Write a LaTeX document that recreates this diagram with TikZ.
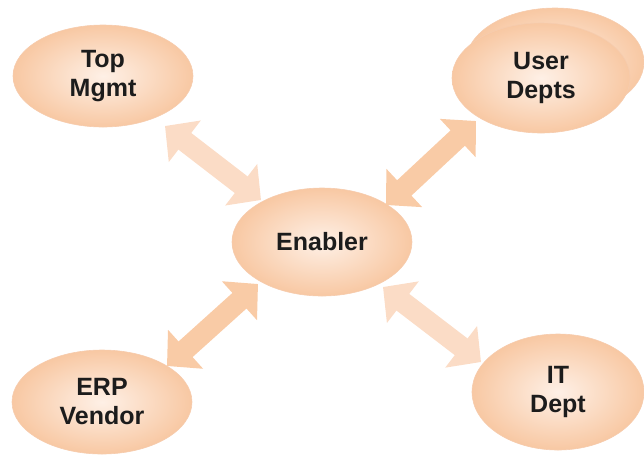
\documentclass[tikz,border=0pt]{standalone}
\usepackage{fontspec}
\setmainfont{Liberation Sans}
\usetikzlibrary{arrows.meta,shapes.geometric}
\definecolor{peachin}{HTML}{FEF0E6}
\definecolor{peachout}{HTML}{F8C8A3}
\definecolor{peachline}{HTML}{F6CCAE}
\definecolor{arrowlight}{HTML}{FBDCC6}
\definecolor{arrowdark}{HTML}{F9CBA6}
\definecolor{txt}{HTML}{1C1C1C}
\tikzset{
  bubble/.style={ellipse, draw=peachline, line width=0.6pt, inner color=peachin, outer color=peachout,
    minimum width=178pt, minimum height=108pt, inner sep=0pt, align=center, text=txt,
    font=\fontsize{25}{29}\selectfont\bfseries},
  bigarrow/.style={draw=#1, line width=21pt,
    {Triangle[length=25pt,width=51pt]}-{Triangle[length=25pt,width=51pt]}}
}
\begin{document}
\begin{tikzpicture}[x=1pt,y=-1pt]
\useasboundingbox (0,0) rectangle (644,459);
% nodes
\node[bubble] (udback) at (555,62) {};
\node[bubble, minimum width=178pt, minimum height=110pt] (ud) at (541,78) {User\\Depts};
\node[bubble, minimum width=180pt, minimum height=102pt] (tm) at (103,76) {Top\\Mgmt};
\node[bubble, minimum width=180pt, minimum height=108pt] (en) at (322,242) {Enabler};
\node[bubble, minimum width=180pt, minimum height=104pt] (erp) at (102,402) {ERP\\Vendor};
\node[bubble, minimum width=172pt, minimum height=116pt] (it) at (558,392) {IT\\Dept};
% arrow end points
\coordinate (a1s) at (165,126); \coordinate (a1e) at (261,200);
\coordinate (a2s) at (476,121); \coordinate (a2e) at (386,205);
\coordinate (a3s) at (258,284); \coordinate (a3e) at (167,366);
\coordinate (a4s) at (383,287); \coordinate (a4e) at (481,362);
\draw[bigarrow=arrowlight] (a1s) -- (a1e);
\draw[bigarrow=arrowdark] (a2s) -- (a2e);
\draw[bigarrow=arrowdark] (a3s) -- (a3e);
\draw[bigarrow=arrowlight] (a4s) -- (a4e);
\end{tikzpicture}
\end{document}
